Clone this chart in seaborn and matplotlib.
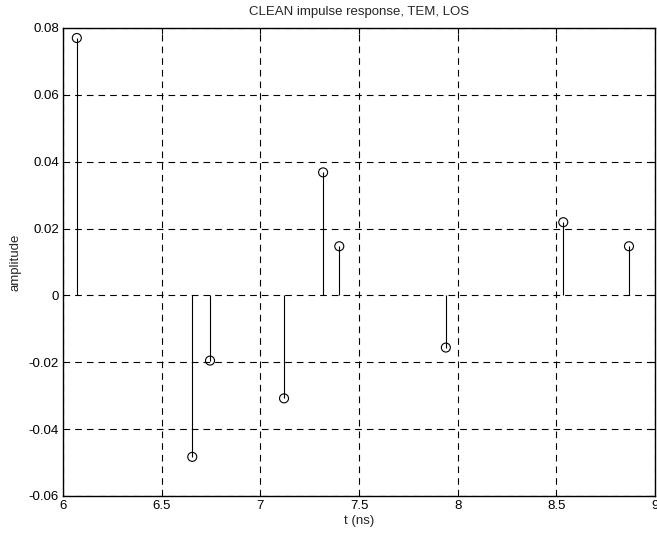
import matplotlib
matplotlib.use("Agg")
import matplotlib.pyplot as plt
import seaborn as sns
import numpy as np
import pandas as pd

t_ns = [6.07, 6.655, 6.745, 7.12, 7.318, 7.40, 7.94, 8.535, 8.868]
amplitude = [0.077, -0.0483, -0.0195, -0.0308, 0.0368, 0.0147, -0.0156, 0.0219, 0.0147]
x_ticks = [6, 6.5, 7, 7.5, 8, 8.5, 9]
x_labels = ["6", "6.5", "7", "7.5", "8", "8.5", "9"]
y_ticks = [-0.06, -0.04, -0.02, 0, 0.02, 0.04, 0.06, 0.08]
y_labels = ["-0.06", "-0.04", "-0.02", "0", "0.02", "0.04", "0.06", "0.08"]

sns.set_style("white")
plt.rcParams['font.family'] = ['Liberation Sans', 'DejaVu Sans']

df = pd.DataFrame({"t": t_ns, "amp": amplitude})

fig = plt.figure(figsize=(6.57, 5.37), dpi=100)
ax = fig.add_axes([0.0959, 0.0764, 0.9011, 0.8715])

ax.vlines(df["t"], 0, df["amp"], colors="black", linewidth=0.8, zorder=3)
sns.scatterplot(data=df, x="t", y="amp", ax=ax, marker="o", s=42,
                facecolors="none", edgecolor="black", linewidth=0.8, zorder=4)

ax.set_xlim(6, 9)
ax.set_ylim(-0.06, 0.08)
ax.set_xticks(x_ticks)
ax.set_xticklabels(x_labels)
ax.set_yticks(y_ticks)
ax.set_yticklabels(y_labels)
ax.grid(True, color="black", linestyle=(0, (6, 4.5)), linewidth=0.8)
ax.tick_params(direction="in", length=4, width=0.8, labelsize=9.5, colors="black", pad=3,
               top=True, right=True)
for s in ax.spines.values():
    s.set_color("black")
    s.set_linewidth(1.0)

ax.set_title("CLEAN impulse response, TEM, LOS", fontsize=9.5, pad=9)
ax.set_xlabel("t (ns)", fontsize=9.5, labelpad=2)
ax.set_ylabel("amplitude", fontsize=9.5, labelpad=5)

fig.savefig("out.png", dpi=100)
